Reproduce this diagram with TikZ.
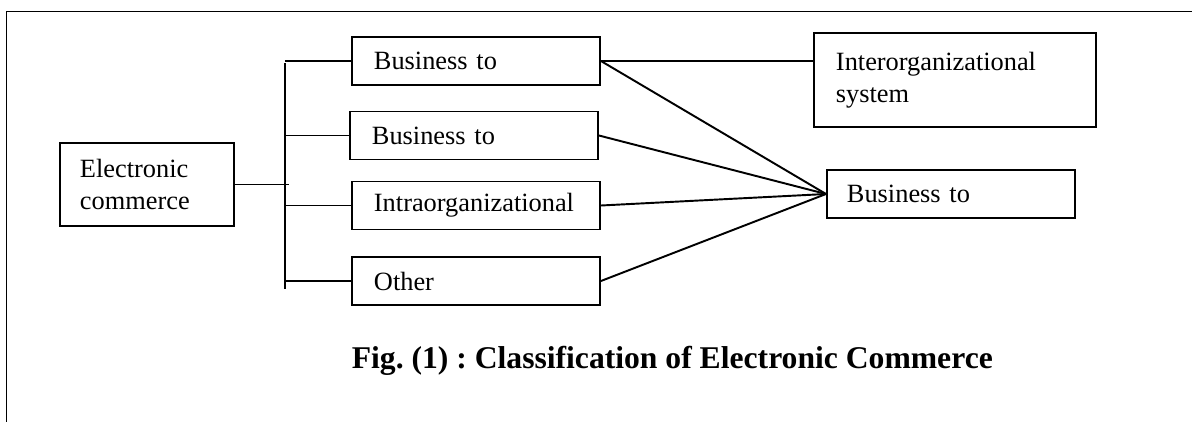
\documentclass[tikz,border=0pt]{standalone}
\usepackage{fontspec}
\setmainfont{Liberation Serif}
\usepackage{tikz}
\frenchspacing

\begin{document}
\begin{tikzpicture}[x=0.2mm, y=-0.2mm, line width=1.1pt,
  box/.style={draw, rectangle, align=left, inner ysep=0pt,
    font=\fontsize{15}{18}\selectfont},
  wbox/.style={box, minimum width=4.96cm, minimum height=0.96cm,
    text width=4.08cm, inner xsep=0.44cm}]
\useasboundingbox (0,0) rectangle (1192,422);
\draw (6.5,422) |- (1192,11.5);

\node (EC) [box, anchor=west, minimum width=3.48cm, minimum height=1.66cm,
  text width=2.68cm, inner xsep=0.4cm] at (59,184.5) {Electronic\\commerce};
\node (B1) [wbox, anchor=west] at (351,61) {Business to};
\node (B2) [wbox, anchor=west] at (349,135.5) {Business to};
\node (IN) [wbox, anchor=west] at (351,205.5) {Intraorganizational};
\node (OT) [wbox, anchor=west] at (351,281) {Other};
\node (IS) [box, anchor=west, minimum width=5.64cm, minimum height=1.88cm,
  text width=4.76cm, inner xsep=0.44cm] at (813,80) {Interorganizational\\system};
\node (BR) [box, anchor=west, minimum width=4.96cm, minimum height=0.96cm,
  text width=4.16cm, inner xsep=0.4cm] at (826,194) {Business to};

\coordinate (T) at (285,63);
\coordinate (U) at (285,289);
\draw (T) -- (U);
\draw (EC.east) -- ([xshift=0.08cm]EC.east -| T);
\foreach \b in {B1, B2, IN, OT}
  \draw (\b.west) -- (\b.west -| T);

\draw (B1.east) -- (B1.east -| IS.west);
\foreach \b in {B1, B2, IN, OT}
  \draw (\b.east) -- (BR.west);

\draw (345,368) node[anchor=base west, font=\fontsize{18}{22}\selectfont\bfseries] (cap)
  {Fig. (1) : Classification of Electronic Commerce};
%
\end{tikzpicture}
\end{document}
